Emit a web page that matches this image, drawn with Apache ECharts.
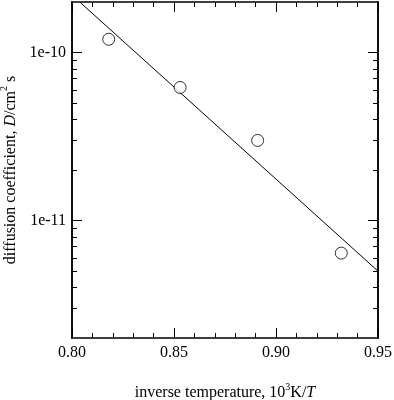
<!DOCTYPE html>
<html>
<head>
<meta charset="utf-8">
<script src="https://cdn.jsdelivr.net/npm/echarts@6/dist/echarts.min.js"></script>
<style>html,body{margin:0;padding:0;background:#fff;}#c{width:394px;height:400px;}</style>
</head>
<body>
<div id="c"></div>
<script>
// data
const invTemp = [0.818, 0.853, 0.891, 0.932];
const diffCoef = [1.20e-10, 6.2e-11, 3.0e-11, 6.4e-12];
const fitX = [0.8038, 0.95];
const fitY = [2.0e-10, 5.0e-12];
const yMajorValues = [1e-11, 1e-10];
const yMajorLabels = ['1e-11', '1e-10'];
const yMinorValues = [3e-12,4e-12,5e-12,6e-12,7e-12,8e-12,9e-12,2e-11,3e-11,4e-11,5e-11,6e-11,7e-11,8e-11,9e-11];
const xMin = 0.80, xMax = 0.95, xStep = 0.05;
const yMin = 2e-12, yMax = 2e-10;

const FONT = 'Liberation Serif';
const chart = echarts.init(document.getElementById('c'), null, {renderer: 'canvas'});
const axisLine = {show: true, onZero: false, lineStyle: {color: '#000', width: 1.5}};
const nameRich = {
  n: {fontFamily: FONT, fontSize: 16, lineHeight: 22, color: '#000'},
  i: {fontFamily: FONT, fontSize: 16, lineHeight: 22, fontStyle: 'italic', color: '#000'},
  s: {fontFamily: FONT, fontSize: 10, lineHeight: 10, color: '#000', verticalAlign: 'top'}
};

function yAx(pos, major, withLabels) {
  return {
    type: 'log', logBase: 10, min: yMin, max: yMax, position: pos,
    axisLine: axisLine,
    splitLine: {show: false},
    axisTick: {show: true, inside: true, length: major ? 10 : 5,
      customValues: major ? yMajorValues : yMinorValues,
      lineStyle: {color: '#000', width: 1}},
    axisLabel: withLabels ? {show: true, customValues: yMajorValues, margin: 6,
      fontFamily: FONT, fontSize: 16, color: '#000',
      formatter: v => { const i = yMajorValues.findIndex(m => Math.abs(m - v) / m < 1e-6); return i >= 0 ? yMajorLabels[i] : ''; }
    } : {show: false},
    name: withLabels ? '{n|diffusion coefficient, }{i|D}{n|/cm}{s|2}{n| s}' : '',
    nameLocation: 'middle', nameGap: 42, nameRotate: 90,
    nameTextStyle: {rich: nameRich}
  };
}
function xAx(pos, withLabels) {
  return {
    type: 'value', min: xMin, max: xMax, interval: xStep, position: pos,
    axisLine: axisLine,
    splitLine: {show: false},
    axisTick: {show: true, inside: true, length: 10, lineStyle: {color: '#000', width: 1}},
    minorTick: {show: true, splitNumber: 5, length: 5, lineStyle: {color: '#000', width: 1}},
    axisLabel: withLabels ? {show: true, margin: 7, fontFamily: FONT, fontSize: 16, color: '#000',
      formatter: v => v.toFixed(2)} : {show: false},
    name: withLabels ? '{n|inverse temperature, 10}{s|3}{n|K/}{i|T}' : '',
    nameLocation: 'middle', nameGap: 44,
    nameTextStyle: {rich: nameRich}
  };
}

chart.setOption({
  animation: false,
  backgroundColor: '#fff',
  grid: {left: 72, right: 16, top: 2, bottom: 62, containLabel: false, outerBoundsMode: 'none'},
  xAxis: [xAx('bottom', true), xAx('top', false)],
  yAxis: [yAx('left', true, true), yAx('left', false, false), yAx('right', true, false), yAx('right', false, false)],
  series: [
    {type: 'line', xAxisIndex: 0, yAxisIndex: 0, data: fitX.map((x, i) => [x, fitY[i]]),
     showSymbol: false, symbol: 'none', clip: true, lineStyle: {color: '#000', width: 1}, z: 2},
    {type: 'scatter', xAxisIndex: 0, yAxisIndex: 0, data: invTemp.map((x, i) => [x, diffCoef[i]]),
     symbol: 'circle', symbolSize: 12, itemStyle: {color: '#fff', borderColor: '#000', borderWidth: 1}, z: 3}
  ]
});
</script>
</body>
</html>
